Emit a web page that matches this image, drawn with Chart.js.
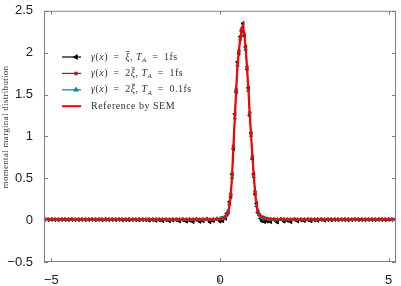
<!DOCTYPE html>
<html>
<head>
  <meta charset="UTF-8" />
  <title>momental marginal distribution</title>
  <style>
    body { margin: 0; background: #fff; }
    #wrap { width: 401px; height: 286px; }
  </style>
</head>
<body>
  <div id="wrap"><canvas id="chart" width="401" height="286"></canvas></div>

  <script src="https://cdn.jsdelivr.net/npm/chart.js"></script>
  <script>
    // tick values
    const xTicks = [-5, 0, 5];
    const yTicks = [-0.5, 0, 0.5, 1, 1.5, 2, 2.5];

    // k grid of the sampled (noisy) runs
    const kNoisy = [
      -5.2, -5.1, -5.0, -4.9, -4.8, -4.7, -4.6, -4.5, -4.4, -4.3,
      -4.2, -4.1, -4.0, -3.9, -3.8, -3.7, -3.6, -3.5, -3.4, -3.3,
      -3.2, -3.1, -3.0, -2.9, -2.8, -2.7, -2.6, -2.5, -2.4, -2.3,
      -2.2, -2.1, -2.0, -1.9, -1.8, -1.7, -1.6, -1.5, -1.4, -1.3,
      -1.2, -1.1, -1.0, -0.9, -0.8, -0.7, -0.6, -0.5, -0.4, -0.3,
      -0.2, -0.1,
      0.00, 0.04, 0.08, 0.12, 0.16, 0.20, 0.24, 0.28, 0.32, 0.36,
      0.40, 0.44, 0.48, 0.52, 0.56, 0.60, 0.64, 0.68, 0.72, 0.76,
      0.80, 0.84, 0.88, 0.92, 0.96, 1.00, 1.04, 1.08, 1.12, 1.16,
      1.20, 1.24, 1.28, 1.32, 1.36, 1.40,
      1.5, 1.6, 1.7, 1.8, 1.9, 2.0, 2.1, 2.2, 2.3, 2.4,
      2.5, 2.6, 2.7, 2.8, 2.9, 3.0, 3.1, 3.2, 3.3, 3.4,
      3.5, 3.6, 3.7, 3.8, 3.9, 4.0, 4.1, 4.2, 4.3, 4.4,
      4.5, 4.6, 4.7, 4.8, 4.9, 5.0, 5.1, 5.2
    ];

    // gamma = xi, T_A = 1fs
    const xi1fs = [
      0.006, 0.004, 0.007, 0.005, 0.003, 0.006, 0.005, 0.004, 0.007, 0.005,
      0.004, 0.006, 0.003, 0.005, 0.007, 0.004, 0.005, 0.002, 0.006, 0.004,
      0.005, 0.003, 0.006, 0.002, 0.004, 0.001, 0.005, 0.003, -0.001, 0.004,
      0.002, -0.003, 0.004, -0.005, 0.001, -0.008, 0.003, -0.010, -0.002, 0.004,
      -0.012, 0.002, -0.015, -0.004, -0.020, 0.006, -0.018, -0.010, 0.012, -0.022,
      -0.008, 0.015,
      -0.015, 0.025, -0.010, 0.035, 0.020, 0.080, 0.090, 0.220, 0.280, 0.550,
      0.850, 1.270, 1.530, 1.890, 1.990, 2.190, 2.260, 2.350, 2.200, 2.070,
      1.800, 1.580, 1.250, 1.040, 0.730, 0.550, 0.310, 0.200, 0.090, 0.060,
      0.020, -0.010, 0.030, -0.020, 0.010, -0.015,
      -0.020, 0.005, -0.025, 0.012, -0.015, -0.005, -0.020, 0.008, -0.012, 0.000,
      -0.008, 0.004, -0.010, 0.002, -0.004, 0.006, -0.003, 0.004, 0.002, 0.005,
      0.003, 0.006, 0.004, 0.002, 0.005, 0.007, 0.004, 0.005, 0.003, 0.006,
      0.005, 0.004, 0.006, 0.005, 0.003, 0.006, 0.005, 0.004
    ];

    // gamma = 2xi, T_A = 1fs
    const xi2_1fs = [
      0.008, 0.009, 0.007, 0.008, 0.009, 0.008, 0.007, 0.009, 0.008, 0.008,
      0.009, 0.007, 0.008, 0.009, 0.008, 0.007, 0.008, 0.009, 0.008, 0.007,
      0.008, 0.009, 0.007, 0.008, 0.009, 0.006, 0.008, 0.009, 0.007, 0.008,
      0.006, 0.009, 0.005, 0.008, 0.004, 0.009, 0.003, 0.008, 0.006, 0.002,
      0.007, 0.001, 0.009, 0.003, 0.006, 0.000, 0.008, 0.002, 0.010, 0.001,
      0.006, 0.010,
      0.012, 0.018, 0.020, 0.030, 0.038, 0.062, 0.105, 0.200, 0.300, 0.530,
      0.870, 1.250, 1.550, 1.870, 2.010, 2.180, 2.270, 2.340, 2.210, 2.060,
      1.820, 1.570, 1.270, 1.030, 0.750, 0.540, 0.330, 0.190, 0.100, 0.070,
      0.045, 0.030, 0.025, 0.018, 0.015, 0.012,
      0.002, 0.009, 0.000, 0.010, 0.003, 0.008, 0.002, 0.009, 0.004, 0.007,
      0.005, 0.008, 0.006, 0.007, 0.008, 0.006, 0.008, 0.007, 0.009, 0.008,
      0.007, 0.008, 0.009, 0.008, 0.007, 0.008, 0.009, 0.008, 0.007, 0.008,
      0.009, 0.008, 0.007, 0.008, 0.009, 0.008, 0.007, 0.008
    ];

    // gamma = 2xi, T_A = 0.1fs
    const xi2_01fs = [
      0.012, 0.011, 0.013, 0.012, 0.011, 0.012, 0.013, 0.012, 0.011, 0.012,
      0.013, 0.012, 0.011, 0.012, 0.013, 0.011, 0.012, 0.012, 0.013, 0.011,
      0.012, 0.013, 0.011, 0.012, 0.012, 0.013, 0.011, 0.012, 0.013, 0.012,
      0.011, 0.013, 0.012, 0.010, 0.013, 0.011, 0.012, 0.009, 0.013, 0.011,
      0.010, 0.013, 0.008, 0.012, 0.010, 0.014, 0.009, 0.012, 0.015, 0.008,
      0.013, 0.016,
      0.018, 0.020, 0.022, 0.028, 0.042, 0.065, 0.110, 0.190, 0.320, 0.510,
      0.890, 1.220, 1.570, 1.850, 2.030, 2.160, 2.290, 2.310, 2.230, 2.040,
      1.840, 1.550, 1.290, 1.010, 0.770, 0.520, 0.350, 0.170, 0.120, 0.070,
      0.050, 0.036, 0.028, 0.022, 0.019, 0.016,
      0.014, 0.012, 0.009, 0.014, 0.010, 0.012, 0.008, 0.013, 0.011, 0.012,
      0.010, 0.013, 0.011, 0.012, 0.012, 0.013, 0.011, 0.012, 0.013, 0.012,
      0.011, 0.012, 0.013, 0.012, 0.011, 0.012, 0.013, 0.012, 0.011, 0.012,
      0.013, 0.012, 0.011, 0.012, 0.013, 0.012, 0.011, 0.012
    ];

    // reference by SEM
    const kRef = [-5.22, -2, -0.5, -0.2, 0, 0.1, 0.2, 0.25, 0.3, 0.35, 0.4, 0.45, 0.5, 0.55, 0.6, 0.65, 0.68,
                  0.72, 0.76, 0.8, 0.85, 0.9, 0.95, 1.0, 1.05, 1.1, 1.15, 1.2, 1.3, 1.4, 1.6, 2, 5.22];
    const semRef = [0.01, 0.01, 0.01, 0.01, 0.012, 0.02, 0.05, 0.1, 0.22, 0.47, 0.9, 1.3, 1.72, 1.98, 2.17, 2.29, 2.32,
                    2.22, 2.06, 1.84, 1.5, 1.15, 0.84, 0.54, 0.29, 0.14, 0.08, 0.055, 0.03, 0.02, 0.012, 0.01, 0.01];

    function pts(xs, ys) { return xs.map((x, i) => ({x: x, y: ys[i]})); }

    const colBlack = '#000000', colDark = '#a02020', colTeal = '#008b8b', colRed = '#ff0000';

    // legend entries: segments [text, italic, sub, bar]
    const EQ = '\u2002=\u2002';
    const legendItems = [
      {color: colBlack, style: 'triangle', rot: -90, r: 2.2,
       segs: [['γ', 1], ['(', 0], ['x', 1], [')' + EQ, 0], ['ξ', 1, 0, 1], [', ', 0], ['T', 1], ['A', 1, 1], [EQ + '1fs', 0]]},
      {color: colDark, style: 'circle', rot: 0, r: 1.4,
       segs: [['γ', 1], ['(', 0], ['x', 1], [')' + EQ + '2', 0], ['ξ', 1, 0, 1], [', ', 0], ['T', 1], ['A', 1, 1], [EQ + '1fs', 0]]},
      {color: colTeal, style: 'triangle', rot: 0, r: 2.2,
       segs: [['γ', 1], ['(', 0], ['x', 1], [')' + EQ + '2', 0], ['ξ', 1, 0, 1], [', ', 0], ['T', 1], ['A', 1, 1], [EQ + '0.1fs', 0]]},
      {color: colRed, style: false, lw: 2,
       segs: [['Reference by SEM', 0]]}
    ];

    const SERIF = '"Liberation Serif", "DejaVu Serif", serif';

    function drawSegs(ctx, x, y, segs, size) {
      ctx.textBaseline = 'middle';
      ctx.textAlign = 'left';
      ctx.letterSpacing = '0.5px';
      segs.forEach(s => {
        const fs = s[2] ? size * 0.7 : size;
        ctx.font = (s[1] ? 'italic ' : '') + fs + 'px ' + SERIF;
        const yy = s[2] ? y + size * 0.3 : y;
        ctx.fillText(s[0], x, yy);
        const w = ctx.measureText(s[0]).width;
        if (s[3]) {
          ctx.beginPath();
          ctx.lineWidth = 0.7;
          ctx.moveTo(x + 1, y - size * 0.55);
          ctx.lineTo(x + w - 0.5, y - size * 0.55);
          ctx.stroke();
        }
        x += w;
      });
      ctx.letterSpacing = '0px';
    }

    const framePlugin = {
      id: 'frame',
      afterDraw(chart) {
        const ctx = chart.ctx, a = chart.chartArea;
        const xs = chart.scales.x, ys = chart.scales.y;
        ctx.save();
        ctx.strokeStyle = '#808080';
        ctx.lineWidth = 1;
        ctx.strokeRect(a.left + 0.5, a.top + 0.5, a.right - a.left - 1, a.bottom - a.top - 1);
        ctx.beginPath();
        xTicks.forEach(v => {
          const px = Math.round(xs.getPixelForValue(v)) + 0.5;
          ctx.moveTo(px, a.bottom); ctx.lineTo(px, a.bottom - 4);
          ctx.moveTo(px, a.top); ctx.lineTo(px, a.top + 4);
        });
        yTicks.forEach(v => {
          const py = Math.round(ys.getPixelForValue(v)) + 0.5;
          ctx.moveTo(a.left, py); ctx.lineTo(a.left + 4, py);
          ctx.moveTo(a.right, py); ctx.lineTo(a.right - 4, py);
        });
        ctx.stroke();

        // axis titles
        ctx.fillStyle = '#333';
        ctx.font = '9px ' + SERIF;
        ctx.textAlign = 'center';
        ctx.textBaseline = 'middle';
        ctx.fillText('k', (a.left + a.right) / 2 - 1, 280);
        ctx.save();
        ctx.translate(6, 127);
        ctx.rotate(-Math.PI / 2);
        ctx.letterSpacing = '0.3px';
        ctx.fillText('momental marginal distribution', 0, 0);
        ctx.restore();

        // legend
        legendItems.forEach((it, i) => {
          const y = 57 + i * 16.4;
          ctx.strokeStyle = it.color;
          ctx.lineWidth = it.lw || 1.2;
          ctx.beginPath();
          ctx.moveTo(62, y); ctx.lineTo(81, y);
          ctx.stroke();
          if (it.style) {
            ctx.fillStyle = it.color;
            Chart.helpers.drawPoint(ctx, {pointStyle: it.style, radius: it.r, rotation: it.rot, borderWidth: 1}, 76, y);
          }
          ctx.fillStyle = '#333';
          ctx.strokeStyle = '#333';
          drawSegs(ctx, 91, y, it.segs, 10);
        });
        ctx.restore();
      }
    };

    const minus = v => String(v).replace('-', '\u2212');

    new Chart(document.getElementById('chart'), {
      type: 'line',
      data: {
        datasets: [
          {data: pts(kRef, semRef), borderColor: colRed, borderWidth: 2.2, pointRadius: 0, order: 0},
          {data: pts(kNoisy, xi2_01fs), borderColor: colTeal, backgroundColor: colTeal, borderWidth: 1,
           pointStyle: 'triangle', pointRadius: 2, pointBorderWidth: 1, order: 1},
          {data: pts(kNoisy, xi2_1fs), borderColor: colDark, backgroundColor: colDark, borderWidth: 1,
           pointStyle: 'circle', pointRadius: 1.2, pointBorderWidth: 0.5, order: 2},
          {data: pts(kNoisy, xi1fs), borderColor: colBlack, backgroundColor: colBlack, borderWidth: 1,
           pointStyle: 'triangle', pointRotation: -90, pointRadius: 2, pointBorderWidth: 1, order: 3}
        ]
      },
      options: {
        responsive: false,
        animation: false,
        layout: {padding: {left: 0, right: 5, top: 8, bottom: 0}},
        plugins: {legend: {display: false}, tooltip: {enabled: false}},
        scales: {
          x: {
            type: 'linear', min: -5.22, max: 5.22,
            grid: {display: false}, border: {display: false},
            afterBuildTicks: s => { s.ticks = xTicks.map(v => ({value: v})); },
            afterFit: s => { s.height = 24; },
            ticks: {padding: 3, color: '#222', font: {family: '"Liberation Sans", Arial, sans-serif', size: 13},
                    callback: v => minus(v), maxRotation: 0}
          },
          y: {
            min: -0.5, max: 2.5,
            grid: {display: false}, border: {display: false},
            afterBuildTicks: s => { s.ticks = yTicks.map(v => ({value: v})); },
            afterFit: s => { s.width = 44; },
            ticks: {padding: 3, color: '#222', font: {family: '"Liberation Sans", Arial, sans-serif', size: 13},
                    callback: v => minus(v)}
          }
        }
      },
      plugins: [framePlugin]
    });
  </script>
</body>
</html>
